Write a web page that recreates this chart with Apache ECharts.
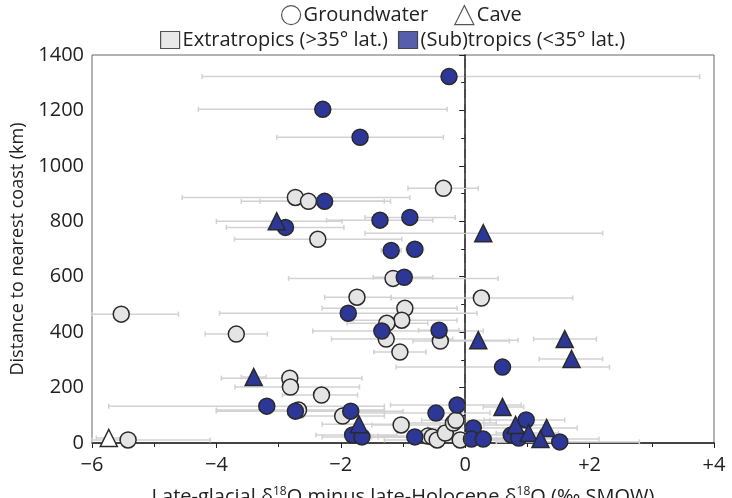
<!DOCTYPE html>
<html>
<head>
<meta charset="utf-8">
<title>Late-glacial minus late-Holocene d18O vs distance to coast</title>
<script src="https://cdn.jsdelivr.net/npm/echarts@6/dist/echarts.min.js"></script>
<style>
  html, body { margin: 0; padding: 0; background: #fff; }
  #chart { width: 732px; height: 498px; }
</style>
</head>
<body>
<div id="chart"></div>
<script>
// each row: [delta18O difference, distance km, error low, error high]
var extraGroundwater = [
  [-0.35, 919, -0.92, 0.21],
  [-2.73, 886, -4.55, -0.89],
  [-2.52, 872, -3.6, -1.3],
  [-2.37, 735, -3.71, -1.02],
  [-1.16, 594, -2.84, 0.53],
  [-1.74, 526, -2.26, -1.19],
  [0.26, 523, -1.19, 1.73],
  [-0.97, 486, -2.3, -0.13],
  [-1.02, 443, -1.8, -0.13],
  [-1.26, 432, -1.9, -0.6],
  [-1.27, 375, -2.15, -0.2],
  [-0.40, 368, -0.84, 0.71],
  [-1.05, 328, -1.47, -0.63],
  [-5.53, 465, -6.0, -4.61],
  [-3.68, 393, -4.18, -3.18],
  [-2.82, 234, -3.92, -1.66],
  [-2.81, 202, -3.7, -1.7],
  [-2.31, 173, -2.94, -1.73],
  [-2.68, 119, -4.0, -1.3],
  [-1.97, 97, -2.6, -1.3],
  [-5.42, 11, -6.0, -4.1],
  [-1.03, 65, -1.5, -0.4],
  [-0.60, 25, -1.4, 0.3],
  [-0.53, 22, -1.4, 0.4],
  [-0.45, 11, -1.3, 0.5],
  [-0.32, 36, -0.9, 0.3],
  [-0.19, 72, -0.9, 0.5],
  [-0.15, 82, -0.7, 0.4],
  [-0.08, 11, -0.8, 0.7]
];
var extraCave = [
  [-5.73, 18, -5.93, -5.5]
];
var subGroundwater = [
  [-0.26, 1322, -4.23, 3.77],
  [-2.29, 1204, -4.29, -0.29],
  [-1.69, 1103, -3.03, -0.35],
  [-2.26, 872, -3.3, -1.2],
  [-1.37, 804, -2.23, -0.52],
  [-0.89, 814, -1.61, -0.16],
  [-2.89, 778, -3.84, -1.95],
  [-1.19, 695, -1.35, -1.03],
  [-0.81, 699, -0.95, -0.67],
  [-0.98, 598, -1.48, -0.52],
  [-1.88, 468, -3.95, 0.19],
  [-1.34, 404, -2.45, 0.29],
  [-0.42, 407, -0.75, -0.1],
  [0.60, 274, -1.11, 2.32],
  [-3.19, 133, -5.73, -1.3],
  [-2.73, 115, -4.0, -1.3],
  [-1.84, 115, -2.6, -1.0],
  [-1.81, 29, -2.4, -1.1],
  [-1.66, 22, -2.3, -0.9],
  [-0.81, 22, -1.5, -0.1],
  [-0.47, 108, -1.8, 0.4],
  [-0.13, 137, -1.2, 0.9],
  [0.13, 54, -0.6, 0.9],
  [0.10, 14, -0.6, 0.8],
  [0.29, 14, -0.5, 1.1],
  [0.98, 83, 0.3, 1.6],
  [0.74, 29, 0.1, 1.4],
  [0.86, 18, 0.2, 1.6],
  [1.52, 4, 0.5, 2.8]
];
var subCave = [
  [-3.03, 800, -4.0, -1.98],
  [0.29, 757, -1.61, 2.21],
  [0.21, 371, -0.4, 0.85],
  [1.60, 375, 1.10, 2.11],
  [1.71, 303, 1.19, 2.21],
  [-3.40, 238, -3.6, -3.2],
  [-1.71, 68, -2.3, -1.1],
  [0.60, 130, 0.29, 0.94],
  [0.81, 65, 0.3, 1.3],
  [1.02, 36, 0.5, 1.5],
  [1.31, 54, 0.8, 1.8],
  [1.21, 14, 0.6, 2.15]
];

var BLUE = '#2c3797';
var LIGHT = '#e4e4e4';
var EDGE = '#2a2a2a';
var FONT = 'Open Sans';
var FS = 20;

var allRows = extraGroundwater.concat(extraCave, subGroundwater, subCave);

var chart = echarts.init(document.getElementById('chart'));

function xLabel(v) {
  if (v < 0) return '\u2212' + Math.abs(v);
  if (v > 0) return '+' + v;
  return '0';
}

function errorBar(params, api) {
  var y = api.value(1);
  var a = api.coord([api.value(2), y]);
  var b = api.coord([api.value(3), y]);
  var st = { stroke: '#d2d2d2', lineWidth: 1.5 };
  return {
    type: 'group',
    children: [
      { type: 'line', shape: { x1: a[0], y1: a[1], x2: b[0], y2: b[1] }, style: st },
      { type: 'line', shape: { x1: a[0], y1: a[1] - 2.5, x2: a[0], y2: a[1] + 2.5 }, style: st },
      { type: 'line', shape: { x1: b[0], y1: b[1] - 2.5, x2: b[0], y2: b[1] + 2.5 }, style: st }
    ]
  };
}

function scatter(name, data, symbol, size, fill) {
  return {
    name: name,
    type: 'scatter',
    data: data.map(function (r) { return [r[0], r[1]]; }),
    symbol: symbol,
    symbolSize: size,
    itemStyle: { color: fill, borderColor: EDGE, borderWidth: 1.5, opacity: 1 },
    z: 3,
    emphasis: { disabled: true }
  };
}

function dummy(name, symbol, fill) {
  return {
    name: name, type: 'scatter', data: [], symbol: symbol,
    itemStyle: { color: fill, borderColor: EDGE, borderWidth: 1.2 }
  };
}

var legendText = { fontFamily: FONT, fontSize: FS, color: '#222', padding: [0, 0, 0, -2] };

var options = {
  animation: false,
  textStyle: { fontFamily: FONT },
  legend: [
    {
      top: 0, left: 276, itemGap: 26, itemWidth: 19, itemHeight: 19,
      textStyle: legendText, selectedMode: false,
      data: [
        { name: 'Groundwater', icon: 'circle', itemStyle: { color: '#fff', borderColor: EDGE, borderWidth: 1.2 } },
        { name: 'Cave', icon: 'triangle', itemStyle: { color: '#fff', borderColor: EDGE, borderWidth: 1.2 } }
      ]
    },
    {
      top: 25, left: 155, itemGap: 10, itemWidth: 19, itemHeight: 17,
      textStyle: legendText, selectedMode: false,
      data: [
        { name: 'Extratropics (>35\u00b0 lat.)', icon: 'rect', itemStyle: { color: LIGHT, borderColor: EDGE, borderWidth: 1.2 } },
        { name: '(Sub)tropics (<35\u00b0 lat.)', icon: 'rect', itemStyle: { color: BLUE, borderColor: EDGE, borderWidth: 1.2 } }
      ]
    }
  ],
  grid: {
    left: 92, right: 18, top: 55, bottom: 55,
    outerBoundsMode: 'none',
    show: true, borderColor: '#666', borderWidth: 1
  },
  xAxis: {
    type: 'value', min: -6, max: 4, interval: 2,
    name: '{t|Late-glacial \u03b4}{s|18}{t|O minus late-Holocene \u03b4}{s|18}{t|O (\u2030 SMOW)}',
    nameLocation: 'middle', nameGap: 43,
    nameTextStyle: {
      rich: {
        t: { fontFamily: FONT, fontSize: FS, color: '#222' },
        s: { fontFamily: FONT, fontSize: 12, color: '#222', verticalAlign: 'top', padding: [0, 0, 10, 0] }
      }
    },
    axisLine: { onZero: false, lineStyle: { color: '#222', width: 1.5 } },
    axisTick: { show: true, length: 5, inside: false, lineStyle: { color: '#222' } },
    minorTick: { show: true, splitNumber: 2, length: 4, lineStyle: { color: '#222' } },
    splitLine: { show: false },
    axisLabel: { margin: 12, fontSize: FS, color: '#222', fontFamily: FONT, formatter: xLabel }
  },
  yAxis: {
    type: 'value', min: 0, max: 1400, interval: 200,
    name: 'Distance to nearest coast (km)',
    nameLocation: 'middle', nameGap: 64,
    nameTextStyle: { fontSize: 18, color: '#222', fontFamily: FONT },
    axisLine: { show: true, lineStyle: { color: '#222', width: 1.5 } },
    axisTick: { show: true, length: 6, lineStyle: { color: '#222' } },
    minorTick: { show: true, splitNumber: 2, length: 4, lineStyle: { color: '#222' } },
    splitLine: { show: false },
    axisLabel: { margin: 8, fontSize: FS, color: '#222', fontFamily: FONT, formatter: function (v) { return String(v); } }
  },
  series: [
    {
      name: 'errors',
      type: 'custom',
      renderItem: errorBar,
      data: allRows,
      encode: { x: [0, 2, 3], y: 1 },
      z: 1,
      silent: true,
      markLine: {
        silent: true, symbol: 'none', animation: false,
        label: { show: false },
        lineStyle: { color: '#444', type: [9, 6], width: 1.5 },
        data: [{ xAxis: 0 }]
      }
    },
    scatter('Extratropics groundwater', extraGroundwater, 'circle', 16, LIGHT),
    scatter('Extratropics cave', extraCave, 'triangle', 17, '#ffffff'),
    scatter('Subtropics groundwater', subGroundwater, 'circle', 16, BLUE),
    scatter('Subtropics cave', subCave, 'triangle', 17, BLUE),
    dummy('Groundwater', 'circle', '#fff'),
    dummy('Cave', 'triangle', '#fff'),
    dummy('Extratropics (>35\u00b0 lat.)', 'rect', LIGHT),
    dummy('(Sub)tropics (<35\u00b0 lat.)', 'rect', BLUE)
  ]
};

chart.setOption(options);
</script>
</body>
</html>
